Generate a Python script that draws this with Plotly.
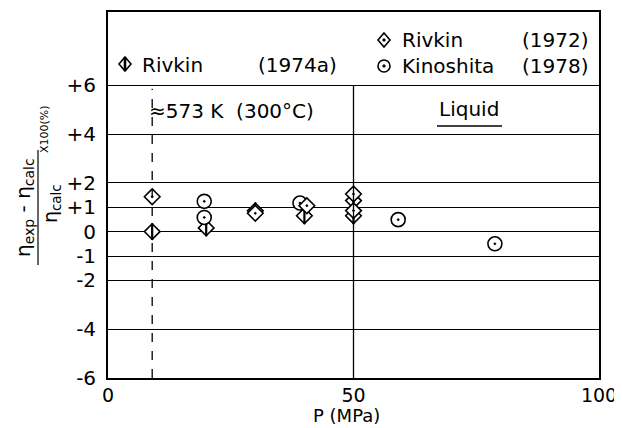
import plotly.graph_objects as go

# ---- data ----
P_rivkin1974a = [9, 20, 30, 40, 50, 50]
dev_rivkin1974a = [0.0, 0.15, 0.85, 0.65, 1.27, 0.65]

P_rivkin1972 = [9, 30, 40.5, 50, 50]
dev_rivkin1972 = [1.43, 0.75, 1.06, 1.54, 0.86]

P_kinoshita = [19.6, 19.6, 39.1, 59.1, 78.8]
dev_kinoshita = [1.24, 0.58, 1.17, 0.49, -0.5]

y_tickvals = [6, 4, 2, 1, 0, -1, -2, -4, -6]
y_ticktext = ["+6", "+4", "+2", "+1", "0", "-1", "-2", "-4", "-6"]
x_tickvals = [0, 50, 100]
x_ticktext = ["0", "50", "100"]

FONT = "DejaVu Sans"
PAGE_OFF = 8            # default body margin of the html page
W, H = 622 - PAGE_OFF, 428 - PAGE_OFF
L, R, T, B = 108 - PAGE_OFF, 23, 12 - PAGE_OFF, 50
PW, PH = W - L - R, H - T - B
X0_SCREEN, Y1_SCREEN = 108, 378   # plot-area left / bottom in screen px


def px_x(px):
    return (px - X0_SCREEN) / PW


def px_y(py):
    return (Y1_SCREEN - py) / PH


fig = go.Figure()

# Rivkin (1974a): diamond with vertical bar
fig.add_trace(go.Scatter(
    x=P_rivkin1974a, y=dev_rivkin1974a, mode="markers", showlegend=False,
    marker=dict(symbol="diamond", size=12, color="white",
                line=dict(color="black", width=1.6)),
    cliponaxis=False))
fig.add_trace(go.Scatter(
    x=P_rivkin1974a, y=dev_rivkin1974a, mode="markers", showlegend=False,
    marker=dict(symbol="line-ns-open", size=12, color="black",
                line=dict(color="black", width=2.2)),
    cliponaxis=False))
# Kinoshita (1978): circle with dot
fig.add_trace(go.Scatter(
    x=P_kinoshita, y=dev_kinoshita, mode="markers", showlegend=False,
    marker=dict(symbol="circle-dot", size=14, color="white",
                line=dict(color="black", width=1.6)),
    cliponaxis=False))
# Rivkin (1972): diamond with dot
fig.add_trace(go.Scatter(
    x=P_rivkin1972, y=dev_rivkin1972, mode="markers", showlegend=False,
    marker=dict(symbol="diamond-dot", size=12, color="white",
                line=dict(color="black", width=1.6)),
    cliponaxis=False))

shapes = []
# reference lines
shapes.append(dict(type="line", xref="x", yref="y", x0=50, x1=50, y0=-6, y1=6,
                   line=dict(color="black", width=1.3)))
shapes.append(dict(type="line", xref="x", yref="y", x0=9, x1=9, y0=-6, y1=5.85,
                   line=dict(color="black", width=1.3, dash="dash")))

# legend symbols
def diamond_shape(cx, cy, hw=6, hh=7):
    return dict(type="path", xref="paper", yref="paper",
                xsizemode="pixel", ysizemode="pixel",
                xanchor=px_x(cx), yanchor=px_y(cy),
                path=f"M0,{hh} L{hw},0 L0,-{hh} L-{hw},0 Z",
                line=dict(color="black", width=1.6), fillcolor="white")

shapes.append(diamond_shape(125, 64))
shapes.append(dict(type="path", xref="paper", yref="paper",
                   xsizemode="pixel", ysizemode="pixel",
                   xanchor=px_x(125), yanchor=px_y(64),
                   path="M0,7 L0,-7", line=dict(color="black", width=2.6)))
shapes.append(diamond_shape(384, 40))
shapes.append(dict(type="circle", xref="paper", yref="paper",
                   xsizemode="pixel", ysizemode="pixel",
                   xanchor=px_x(384), yanchor=px_y(40),
                   x0=-1.2, x1=1.2, y0=-1.2, y1=1.2,
                   line=dict(color="black", width=1), fillcolor="black"))
shapes.append(dict(type="circle", xref="paper", yref="paper",
                   xsizemode="pixel", ysizemode="pixel",
                   xanchor=px_x(384), yanchor=px_y(66),
                   x0=-6, x1=6, y0=-6, y1=6,
                   line=dict(color="black", width=1.6), fillcolor="white"))
shapes.append(dict(type="circle", xref="paper", yref="paper",
                   xsizemode="pixel", ysizemode="pixel",
                   xanchor=px_x(384), yanchor=px_y(66),
                   x0=-1.2, x1=1.2, y0=-1.2, y1=1.2,
                   line=dict(color="black", width=1), fillcolor="black"))

# underline for "Liquid"
shapes.append(dict(type="line", xref="paper", yref="paper",
                   x0=px_x(437), x1=px_x(502), y0=px_y(126), y1=px_y(126),
                   line=dict(color="black", width=1.6)))

# y-axis title fraction bar
shapes.append(dict(type="line", xref="paper", yref="paper",
                   x0=px_x(38), x1=px_x(38), y0=px_y(265), y1=px_y(150),
                   line=dict(color="black", width=1.2)))

fig.update_layout(shapes=shapes)

ann = []
def text(t, cx, cy, size, xanchor="left", angle=0):
    ann.append(dict(text=t, xref="paper", yref="paper", x=px_x(cx), y=px_y(cy),
                    xanchor=xanchor, yanchor="middle", showarrow=False,
                    textangle=angle, font=dict(family=FONT, size=size, color="black")))

text("Rivkin", 140, 65, 20)
text("(1974a)", 256, 65, 20)
text("Rivkin", 400, 40, 20)
text("(1972)", 591, 40, 20, xanchor="right")
text("Kinoshita", 400, 66, 20)
text("(1978)", 591, 66, 20, xanchor="right")
text("≈573 K  (300°C)", 147, 111, 20)
text("Liquid", 469, 109, 20, xanchor="center")
text("P (MPa)", 346, 415, 18, xanchor="center")
text("η<sub>exp</sub> - η<sub>calc</sub>", 24, 208, 20, xanchor="center", angle=-90)
text("η<sub>calc</sub>", 51, 204, 19, xanchor="center", angle=-90)
text("X100(%)", 44, 129, 11, xanchor="center", angle=-90)

fig.update_layout(
    annotations=ann,
    width=W, height=H,
    margin=dict(l=L, r=R, t=T, b=B, pad=0, autoexpand=False),
    paper_bgcolor="white", plot_bgcolor="white",
    showlegend=False,
    font=dict(family=FONT, size=19, color="black"),
    xaxis=dict(range=[0, 100], tickvals=x_tickvals, ticktext=x_ticktext,
               showgrid=False, zeroline=False, showline=True, mirror=True,
               linecolor="black", linewidth=1.8, ticks="",
               automargin=False, ticklabelstandoff=-1,
               tickfont=dict(family=FONT, size=19, color="black"),
               fixedrange=True),
    yaxis=dict(range=[-6, 9], tickvals=y_tickvals, ticktext=y_ticktext,
               showgrid=True, gridcolor="black", gridwidth=1.3,
               zeroline=False, showline=True, mirror=True,
               linecolor="black", linewidth=1.8, ticks="",
               automargin=False, ticklabelstandoff=6,
               tickfont=dict(family=FONT, size=20, color="black"),
               fixedrange=True),
)

fig.write_html("out.html")
